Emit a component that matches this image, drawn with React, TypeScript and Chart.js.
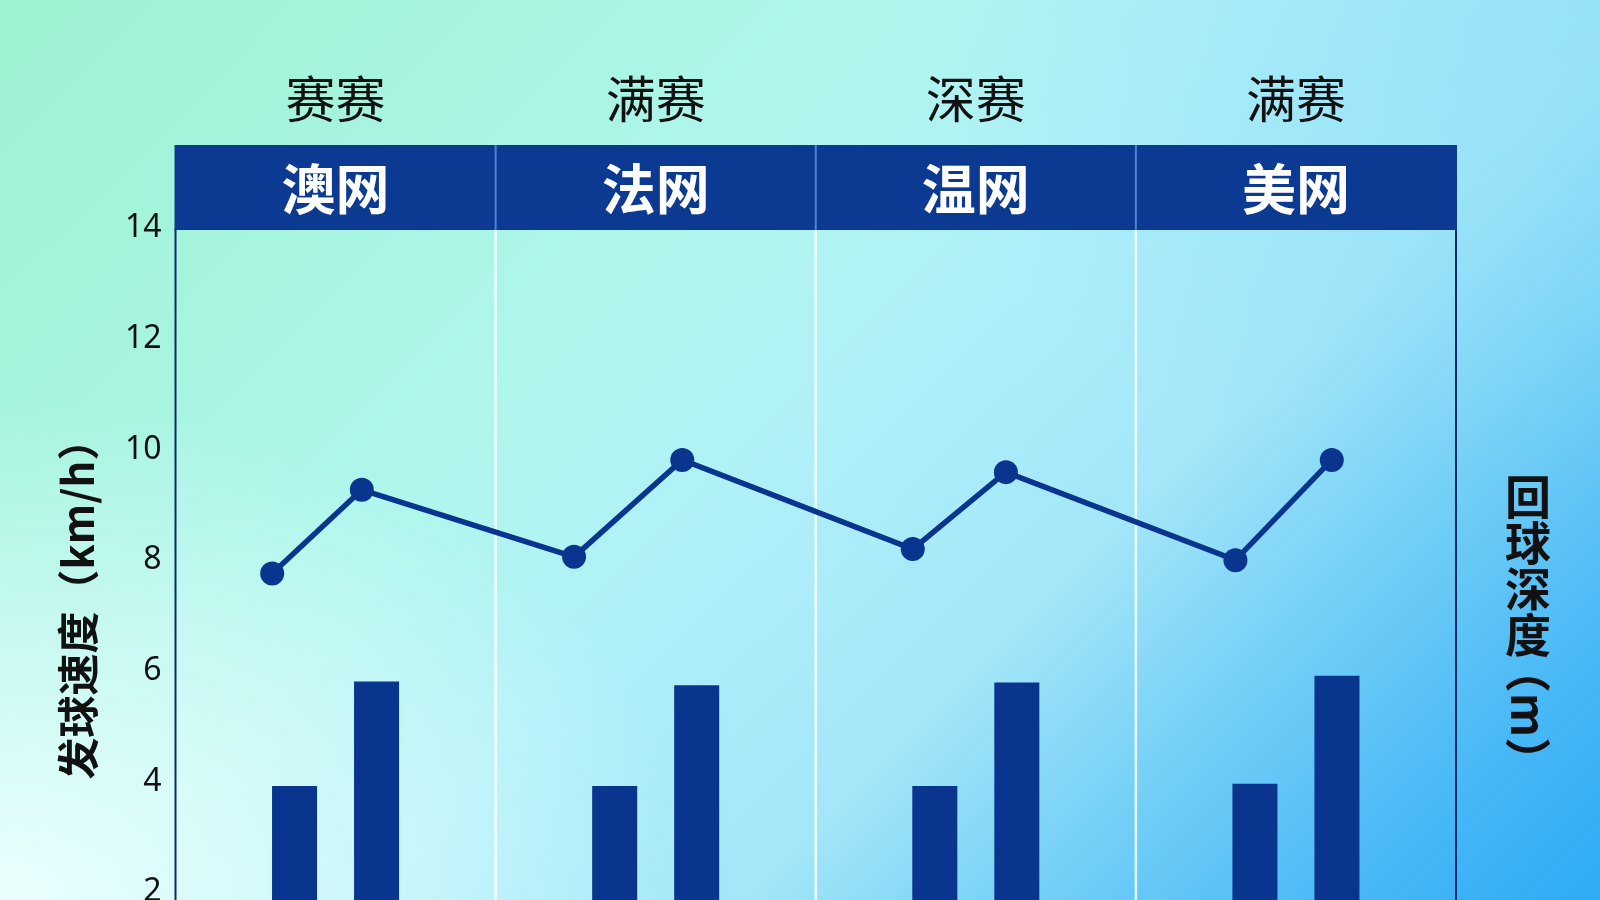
import React, { useEffect, useRef } from "react";
import { Chart, registerables } from "chart.js";

Chart.register(...registerables);

const categories = ["澳网", "法网", "温网", "美网"];
const roundLabels = ["赛赛", "满赛", "深赛", "满赛"];
const barSeriesA = [3.92, 3.92, 3.92, 3.96];
const barSeriesB = [5.81, 5.74, 5.79, 5.91];
const linePositions = [-0.198, 0.082, 0.745, 1.083, 1.803, 2.094, 2.811, 3.112];
const lineValues = [7.76, 9.27, 8.06, 9.81, 8.2, 9.59, 8.0, 9.81];
const yTicks = [0, 2, 4, 6, 8, 10, 12, 14];
const leftTitle = "发球速度（km/h）";
const rightTitleChars = ["回", "球", "深", "度"];
const rightTitleUnit = "（m）";

const NAVY = "#0a358e";
const BAND = "#0c3a93";
const FONT = "'Noto Sans CJK SC', 'Noto Sans', sans-serif";

const decor = {
  id: "decor",
  beforeDatasetsDraw(chart: any) {
    const { ctx, chartArea: a, scales } = chart;
    const x = scales.x;
    const half = (x.getPixelForValue(1) - x.getPixelForValue(0)) / 2;
    ctx.save();
    ctx.strokeStyle = "rgba(255,255,255,0.8)";
    ctx.lineWidth = 2.5;
    for (let i = 0; i < categories.length - 1; i++) {
      const px = x.getPixelForValue(i) + half;
      ctx.beginPath();
      ctx.moveTo(px, a.top);
      ctx.lineTo(px, a.bottom);
      ctx.stroke();
    }
    ctx.restore();
  },
  afterDraw(chart: any) {
    const { ctx, chartArea: a, scales } = chart;
    const x = scales.x;
    const half = (x.getPixelForValue(1) - x.getPixelForValue(0)) / 2;
    ctx.save();
    // borders
    ctx.strokeStyle = "#0d2a66";
    ctx.lineWidth = 2;
    [a.left, a.right].forEach((px: number) => {
      ctx.beginPath();
      ctx.moveTo(px, a.top);
      ctx.lineTo(px, a.bottom);
      ctx.stroke();
    });
    // header band
    const bandTop = a.top - 83;
    const bandBottom = a.top + 2;
    ctx.fillStyle = BAND;
    ctx.fillRect(a.left - 1, bandTop, a.right - a.left + 2, bandBottom - bandTop);
    ctx.strokeStyle = "#4f80d8";
    ctx.lineWidth = 2;
    for (let i = 0; i < categories.length - 1; i++) {
      const px = x.getPixelForValue(i) + half;
      ctx.beginPath();
      ctx.moveTo(px, bandTop);
      ctx.lineTo(px, bandBottom);
      ctx.stroke();
    }
    ctx.textAlign = "center";
    ctx.textBaseline = "middle";
    ctx.fillStyle = "#ffffff";
    ctx.font = `bold 54px ${FONT}`;
    categories.forEach((c, i) => {
      ctx.fillText(c, x.getPixelForValue(i), (bandTop + bandBottom) / 2 + 2);
    });
    ctx.fillStyle = "#111111";
    ctx.font = `50px ${FONT}`;
    roundLabels.forEach((c, i) => {
      ctx.fillText(c, x.getPixelForValue(i), a.top - 129);
    });
    // left title
    ctx.save();
    ctx.translate(78, 599);
    ctx.rotate(-Math.PI / 2);
    ctx.font = `bold 42px ${FONT}`;
    ctx.fillStyle = "#111111";
    ctx.fillText(leftTitle, 0, 0);
    ctx.restore();
    // right title (vertical)
    ctx.font = `bold 46px ${FONT}`;
    ctx.fillStyle = "#111111";
    const rx = 1528;
    rightTitleChars.forEach((c, i) => {
      ctx.fillText(c, rx, 497 + i * 46);
    });
    ctx.save();
    ctx.translate(rx, 715);
    ctx.rotate(Math.PI / 2);
    ctx.fillText(rightTitleUnit, 0, 0);
    ctx.restore();
    ctx.restore();
  },
};

export default function App() {
  const ref = useRef<HTMLCanvasElement | null>(null);
  useEffect(() => {
    if (!ref.current) return;
    Chart.defaults.font.family = FONT;
    const yMin = yTicks[0];
    const yMax = yTicks[yTicks.length - 1];
    const step = yTicks[1] - yTicks[0];
    const chart = new Chart(ref.current, {
      type: "bar",
      data: {
        labels: categories,
        datasets: [
          {
            type: "line",
            label: "line",
            data: linePositions.map((p, i) => ({ x: p, y: lineValues[i] })),
            xAxisID: "xLine",
            yAxisID: "y",
            borderColor: NAVY,
            backgroundColor: NAVY,
            borderWidth: 5.5,
            pointRadius: 12,
            pointBackgroundColor: NAVY,
            pointBorderWidth: 0,
            tension: 0,
            order: 0,
          } as any,
          {
            label: "A",
            data: barSeriesA,
            xAxisID: "x",
            yAxisID: "y",
            backgroundColor: NAVY,
            categoryPercentage: 1.0248,
            barPercentage: 0.549,
            order: 1,
          },
          {
            label: "B",
            data: barSeriesB,
            xAxisID: "x",
            yAxisID: "y",
            backgroundColor: NAVY,
            categoryPercentage: 1.0248,
            barPercentage: 0.549,
            order: 1,
          },
        ],
      },
      options: {
        responsive: false,
        animation: false,
        devicePixelRatio: 1,
        layout: { padding: { top: 228, bottom: 37, left: 0, right: 0 } },
        plugins: { legend: { display: false }, tooltip: { enabled: false } },
        scales: {
          x: { type: "category", display: false, offset: true },
          xLine: { type: "linear", display: false, min: -0.5, max: 3.5, offset: false },
          y: {
            position: "left",
            min: yMin,
            max: yMax,
            ticks: {
              stepSize: step,
              color: "#111111",
              font: { size: 32, family: "'Noto Sans', sans-serif" },
              padding: 14,
            },
            grid: { display: false, drawTicks: false },
            border: { display: false },
            afterFit: (s: any) => {
              s.width = 175.5;
            },
          },
          y2: {
            position: "right",
            min: yMin,
            max: yMax,
            ticks: { display: false },
            grid: { display: false, drawTicks: false },
            border: { display: false },
            afterFit: (s: any) => {
              s.width = 144;
            },
          },
        },
      } as any,
      plugins: [decor],
    });
    return () => chart.destroy();
  }, []);
  return (
    <div
      style={{
        position: "fixed",
        left: 0,
        top: 0,
        width: 1600,
        height: 900,
        overflow: "hidden",
        background:
          "radial-gradient(ellipse 700px 500px at 0% 100%, rgba(238,255,255,0.95), rgba(238,255,255,0) 100%), radial-gradient(ellipse 700px 500px at 100% 0%, rgba(140,222,248,0.6), rgba(140,222,248,0) 100%), linear-gradient(135deg, #9cf2d0 0%, #b0f6ee 38%, #b0f0f8 50%, #a2e6f8 66%, #72cef6 78%, #48b8f6 90%, #2eaaf6 100%)",
      }}
    >
      <canvas
        ref={ref}
        width={1600}
        height={1040}
        style={{ position: "absolute", left: 0, top: 0, width: 1600, height: 1040 }}
      />
    </div>
  );
}
